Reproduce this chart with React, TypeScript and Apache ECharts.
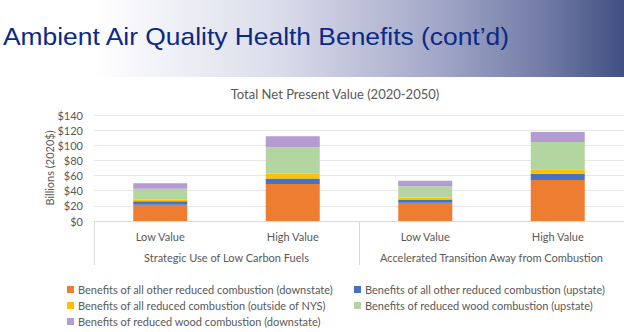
import React, { useEffect, useRef } from "react";
import * as echarts from "echarts";

const headerTitle = "Ambient Air Quality Health Benefits (cont’d)";
const chartTitle = "Total Net Present Value (2020-2050)";
const yAxisName = "Billions (2020$)";
const scenarioLabels = ["Low Value", "High Value", "Low Value", "High Value"];
const groupLabels = ["Strategic Use of Low Carbon Fuels", "Accelerated Transition Away from Combustion"];

const seriesNames = [
  "Benefits of all other reduced combustion (downstate)",
  "Benefits of all other reduced combustion (upstate)",
  "Benefits of all reduced combustion (outside of NYS)",
  "Benefits of reduced wood combustion (upstate)",
  "Benefits of reduced wood combustion (downstate)",
];
const otherDownstate = [21.5, 49, 24, 54];
const otherUpstate = [4.5, 7, 4.5, 8.5];
const outsideNYS = [2.5, 6.5, 2.5, 6];
const woodUpstate = [14, 35, 15, 36];
const woodDownstate = [7.5, 14.5, 7, 13];
const seriesValues = [otherDownstate, otherUpstate, outsideNYS, woodUpstate, woodDownstate];
const seriesColors = ["#ED7D31", "#4472C4", "#FFC000", "#B3D59F", "#B49BD1"];

const FONT = "Lato, 'Open Sans', sans-serif";
const GRAY = "#595959";

export default function App() {
  const ref = useRef<HTMLDivElement>(null);
  useEffect(() => {
    if (!ref.current) return;
    const chart = echarts.init(ref.current, null, { renderer: "svg" });
    const legendBase = {
      orient: "vertical",
      top: 284,
      padding: 0,
      itemWidth: 7,
      itemHeight: 7,
      itemGap: 5,
      icon: "rect",
      textStyle: { fontFamily: FONT, fontSize: 11, color: GRAY, padding: [0, 0, 0, -1] },
    };
    const option: any = {
      animation: false,
      backgroundColor: "#ffffff",
      textStyle: { fontFamily: FONT },
      graphic: [
        {
          type: "rect",
          shape: { x: 0, y: 0, width: 624, height: 77 },
          style: {
            fill: new echarts.graphic.LinearGradient(0, 0, 1, 0, [
              { offset: 0, color: "#ffffff" },
              { offset: 0.15, color: "#ffffff" },
              { offset: 0.45, color: "#dadcea" },
              { offset: 0.7, color: "#a3a8c8" },
              { offset: 0.88, color: "#6f79a4" },
              { offset: 1, color: "#414f82" },
            ]),
          },
          silent: true,
        },
        {
          type: "text",
          x: 3,
          y: 36,
          scaleX: 1.1,
          originX: 0,
          style: {
            text: headerTitle,
            fill: "#0a2a86",
            font: "24px 'Liberation Sans', Arial, sans-serif",
            verticalAlign: "middle",
          },
        },
      ],
      title: {
        text: chartTitle,
        left: 330,
        top: 82,
        textAlign: "center",
        textStyle: { fontFamily: FONT, fontSize: 13, fontWeight: "normal", color: GRAY },
      },
      legend: [
        { ...legendBase, data: [seriesNames[0], seriesNames[2], seriesNames[4]], left: 67 },
        { ...legendBase, data: [seriesNames[1], seriesNames[3]], left: 354 },
      ],
      grid: { left: 94, right: 0, top: 115, bottom: 111, containLabel: false },
      xAxis: [
        {
          type: "category",
          data: scenarioLabels,
          axisTick: { show: false },
          axisLine: { lineStyle: { color: "#d9d9d9" } },
          axisLabel: { fontFamily: FONT, fontSize: 11, color: GRAY, margin: 10, interval: 0 },
        },
        {
          type: "category",
          data: groupLabels,
          position: "bottom",
          axisLine: { show: false },
          axisTick: { show: true, interval: 0, length: 44, lineStyle: { color: "#d9d9d9" } },
          axisLabel: { fontFamily: FONT, fontSize: 11, color: GRAY, margin: 31, interval: 0 },
        },
      ],
      yAxis: {
        type: "value",
        min: 0,
        max: 140,
        interval: 20,
        name: yAxisName,
        nameLocation: "middle",
        nameGap: 39,
        nameMoveOverlap: false,
        nameTextStyle: { fontFamily: FONT, fontSize: 11, color: GRAY },
        axisLine: { show: false },
        axisTick: { show: false },
        axisLabel: {
          fontFamily: FONT,
          fontSize: 11,
          color: GRAY,
          margin: 11,
          formatter: (v: number) => "$" + v,
        },
        splitLine: { lineStyle: { color: "#e6e6e6" } },
      },
      series: seriesValues.map((vals, i) => ({
        name: seriesNames[i],
        type: "bar",
        stack: "total",
        xAxisIndex: 0,
        barWidth: 54,
        data: vals,
        itemStyle: { color: seriesColors[i] },
      })),
    };
    chart.setOption(option);
    return () => chart.dispose();
  }, []);
  return (
    <div
      ref={ref}
      style={{ position: "fixed", left: 0, top: 0, width: 624, height: 332, background: "#fff" }}
    />
  );
}
